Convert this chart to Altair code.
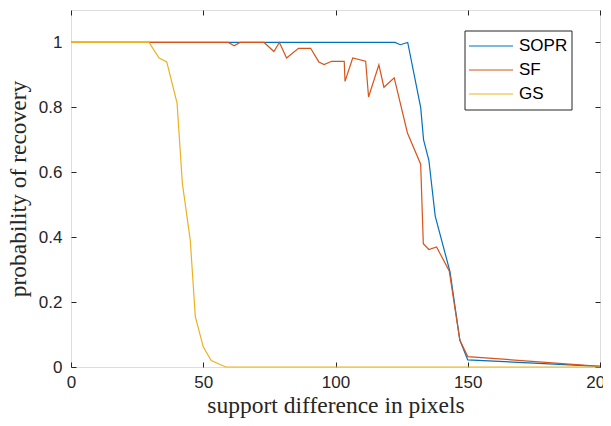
import altair as alt
import pandas as pd

series_names = ["SOPR", "SF", "GS"]
series_colors = ["#0072BD", "#D95319", "#EDB120"]

sopr_x = [0, 122.5, 124.5, 127.3, 132.2, 133.3, 135.3, 137.7, 143.3, 147.0, 150.0, 200]
sopr_y = [1.0, 1.0, 0.993, 1.0, 0.80, 0.70, 0.637, 0.465, 0.293, 0.083, 0.022, 0.002]

sf_x = [0, 59.5, 61.7, 63.9, 73.0, 76.7, 78.8, 81.5, 86.0, 90.6, 93.7, 95.7, 98.5,
        103.3, 103.6, 106.5, 111.4, 112.5, 116.4, 118.3, 122.2, 127.2, 132.2,
        133.2, 135.3, 138.2, 143.0, 147.0, 150.0, 200]
sf_y = [1.0, 1.0, 0.99, 1.0, 1.0, 0.972, 1.0, 0.952, 0.982, 0.982, 0.94, 0.932, 0.942,
        0.942, 0.88, 0.952, 0.942, 0.832, 0.931, 0.862, 0.891, 0.721, 0.625,
        0.38, 0.362, 0.37, 0.296, 0.083, 0.032, 0.002]

gs_x = [0, 29.5, 33.3, 36.2, 40.1, 42.1, 45.1, 47.0, 50.0, 53.0, 58.5, 200]
gs_y = [1.0, 1.0, 0.952, 0.94, 0.813, 0.566, 0.39, 0.155, 0.062, 0.02, 0.0, 0.0]

x_ticks = [0, 50, 100, 150, 200]
y_ticks = [0, 0.2, 0.4, 0.6, 0.8, 1]

rows = []
for name, xs, ys in [("SOPR", sopr_x, sopr_y), ("SF", sf_x, sf_y), ("GS", gs_x, gs_y)]:
    for i, (a, b) in enumerate(zip(xs, ys)):
        rows.append({"series": name, "x": a, "y": b, "idx": i})
df = pd.DataFrame(rows)

axis_color = "#262626"
tick_font = "Liberation Sans"
title_font = "Liberation Serif"

xscale = alt.Scale(domain=[0, 200], nice=False, zero=False)
yscale = alt.Scale(domain=[0, 1.1], nice=False, zero=False)

common_axis = dict(offset=-5, tickSize=5, domain=False, grid=False,
                   tickColor=axis_color, tickWidth=1)

lines = alt.Chart(df).mark_line(strokeWidth=1.2).encode(
    x=alt.X("x:Q", scale=xscale,
            axis=alt.Axis(title="support difference in pixels", values=x_ticks,
                          orient="bottom", labelPadding=7, labelFont=tick_font,
                          labelFontSize=17, labelColor=axis_color, titleFont=title_font,
                          titleFontSize=23.5, titleFontWeight="normal", titleColor=axis_color,
                          titlePadding=3, labelFlush=False, **common_axis)),
    y=alt.Y("y:Q", scale=yscale,
            axis=alt.Axis(title="probability of recovery", values=y_ticks, format=".1~f",
                          orient="left", labelPadding=9, labelFont=tick_font,
                          labelFontSize=17, labelColor=axis_color, titleFont=title_font,
                          titleFontSize=23.5, titleFontWeight="normal", titleColor=axis_color,
                          titlePadding=8, labelFlush=False, **common_axis)),
    color=alt.Color("series:N",
                    scale=alt.Scale(domain=series_names, range=series_colors),
                    sort=series_names,
                    legend=alt.Legend(title=None, orient="none", legendX=393.5, legendY=20.5,
                                      fillColor="white", strokeColor=axis_color,
                                      padding=3.5, rowPadding=0, clipHeight=24,
                                      symbolType="stroke", symbolSize=1936,
                                      symbolStrokeWidth=1.2, symbolOpacity=1,
                                      labelFont=tick_font,
                                      labelFontSize=17, labelColor="black",
                                      labelOffset=5)),
    order="idx:Q",
)

frame = alt.Chart(df).mark_line(opacity=0).encode(
    x=alt.X("x:Q", scale=xscale,
            axis=alt.Axis(title=None, labels=False, values=x_ticks, orient="top", **common_axis)),
    y=alt.Y("y:Q", scale=yscale,
            axis=alt.Axis(title=None, labels=False, values=y_ticks, orient="right", **common_axis)),
    detail="series:N",
    order="idx:Q",
)

chart = alt.layer(lines, frame).resolve_axis(x="independent", y="independent").properties(
    width=529, height=357,
    autosize=alt.AutoSizeParams(type="none"),
    padding={"left": 63, "top": 2, "right": 3, "bottom": 51},
).configure_view(stroke=axis_color, strokeWidth=1).configure(background="white")

chart.save("out.html", embed_options={"renderer": "svg", "actions": False})
